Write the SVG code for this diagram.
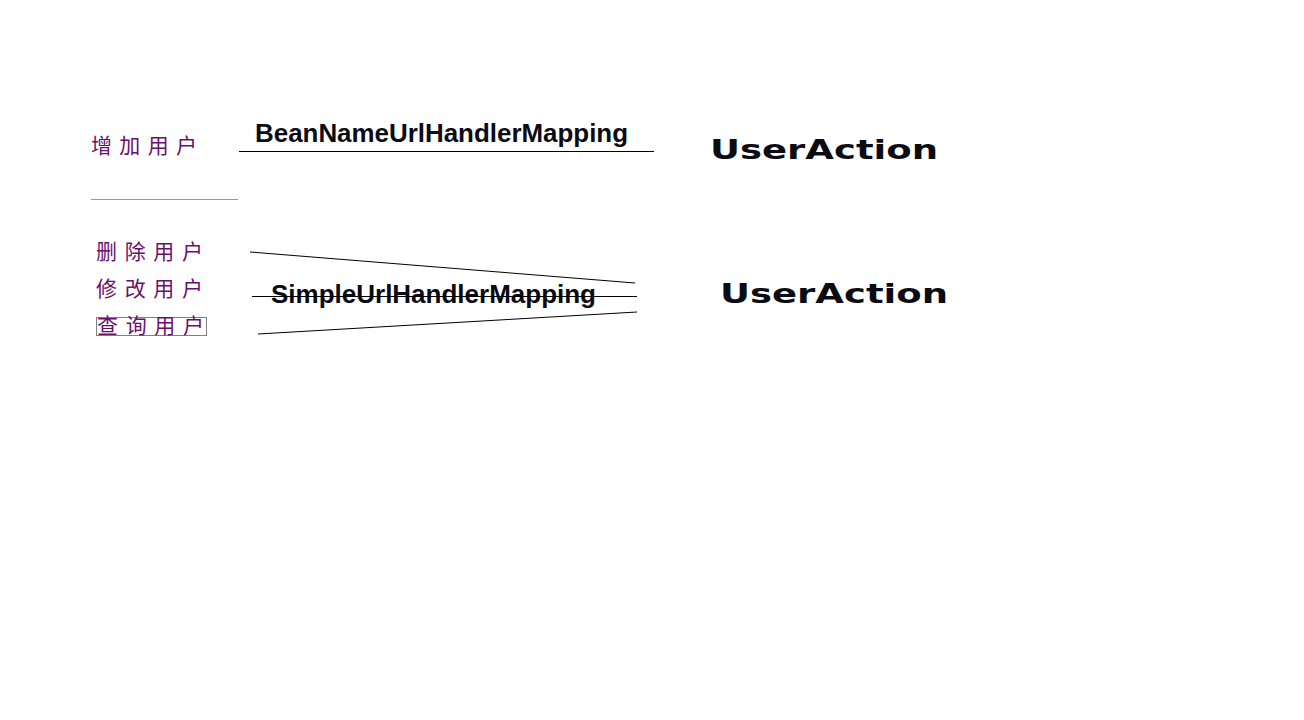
<svg xmlns="http://www.w3.org/2000/svg" width="1304" height="720" viewBox="0 0 1304 720">
<style>
.cn{font-family:"Noto Sans CJK SC","Liberation Sans",sans-serif;font-size:21px;fill:#6a0f6e}
.map{font-family:"Liberation Sans","DejaVu Sans",sans-serif;font-weight:bold;font-size:25px;fill:#0b0b14}
.ua{font-family:"DejaVu Sans",sans-serif;font-weight:bold;font-size:26px;fill:#0b0b14}
.ln{stroke:#000;stroke-width:1;fill:none}
</style>
<rect width="1304" height="720" fill="#fff"/>
<g id="add-user"><text class="cn" x="91" y="153" textLength="106" lengthAdjust="spacing">增加用户</text></g>
<g id="bean-mapping"><text class="map" x="255" y="142" textLength="373" lengthAdjust="spacingAndGlyphs">BeanNameUrlHandlerMapping</text></g>
<g id="useraction-1"><text class="ua" x="710" y="159" textLength="228" lengthAdjust="spacingAndGlyphs">UserAction</text></g>
<g id="del-user"><text class="cn" x="96" y="259" textLength="107" lengthAdjust="spacing">删除用户</text></g>
<g id="mod-user"><text class="cn" x="96" y="296" textLength="107" lengthAdjust="spacing">修改用户</text></g>
<g id="query-user"><rect x="96.5" y="317.5" width="110" height="18" fill="none" stroke="#000" stroke-width="1" stroke-dasharray="1,1"/><text class="cn" x="97" y="333" textLength="107" lengthAdjust="spacing">查询用户</text></g>
<g id="simple-mapping"><text class="map" x="271" y="303" textLength="325" lengthAdjust="spacingAndGlyphs">SimpleUrlHandlerMapping</text></g>
<g id="useraction-2"><text class="ua" x="720" y="303" textLength="228" lengthAdjust="spacingAndGlyphs">UserAction</text></g>
<g id="connectors">
<line class="ln" x1="239" y1="151.5" x2="654" y2="151.5"/>
<line x1="91" y1="199.5" x2="238" y2="199.5" stroke="#999" stroke-width="1"/>
<line class="ln" x1="250" y1="252" x2="635" y2="283"/>
<line class="ln" x1="252" y1="296.5" x2="637" y2="296.5"/>
<line class="ln" x1="258" y1="334" x2="637" y2="312"/>
</g>
</svg>
